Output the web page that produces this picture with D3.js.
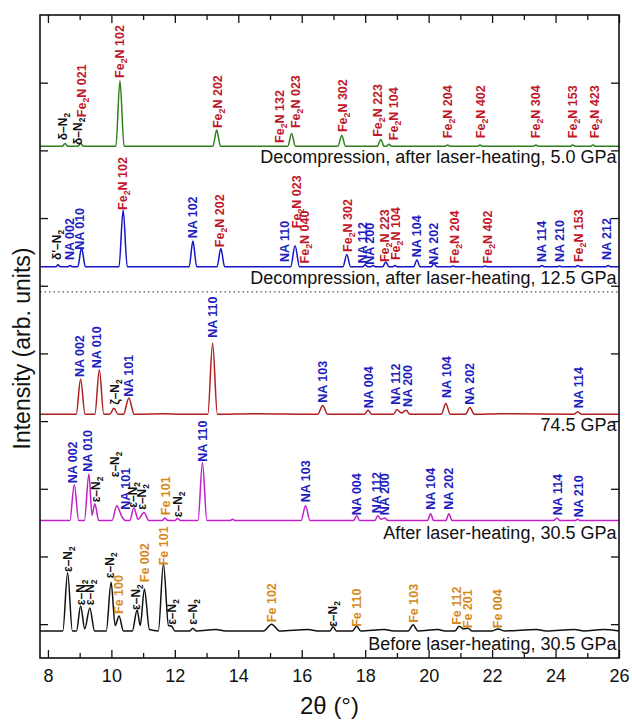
<!DOCTYPE html>
<html>
<head>
<meta charset="utf-8">
<script src="https://cdn.jsdelivr.net/npm/d3@7"></script>
<style>
  body { margin: 0; background: #fff; }
</style>
</head>
<body>
<div class="chart"></div>
<script>
// ---- data (2theta in degrees, intensity in arb. units) ----
const xMajorTicks = [8, 10, 12, 14, 16, 18, 20, 22, 24, 26];
const xMinorTicks = [9, 11, 13, 15, 17, 19, 21, 23, 25];
const yTicks = [0.5, 1.5, 2.5, 3.5, 4.5, 5.5, 6.5, 7.5, 8.5];

const traceNames = ["green", "blue", "red", "magenta", "black"];
const baselines = [7.56, 5.78, 3.60, 2.03, 0.40];
const traceColors = ["#2f7f1c", "#1414c8", "#b01e1e", "#c21fc8", "#111111"];

// vertices of each pattern, intensity relative to its own baseline
const greenTrace = [[7.75,0],[8.45,0],[8.54,0.04],[8.63,0],[8.94,0],[9.03,0.04],[9.12,0],[10.14,0],[10.27,0.97],[10.4,0],
  [13.2,0],[13.32,0.24],[13.44,0],[15.56,0],[15.68,0.19],[15.8,0],[17.14,0],[17.26,0.16],[17.38,0],[18.38,0],[18.49,0.10],
  [18.6,0],[18.67,0],[18.75,0.03],[18.83,0],[20.52,0],[20.6,0.02],[20.68,0],[21.54,0],[21.62,0.02],[21.7,0],[23.3,0],
  [23.38,0.02],[23.46,0],[24.46,0],[24.54,0.02],[24.62,0],[25.1,0],[25.18,0.02],[25.26,0],[26,0]];

const blueTrace = [[7.75,0],[8.25,0],[8.32,0.03],[8.39,0],[8.63,0],[8.7,0.02],[8.77,0],[8.94,0],[9.06,0.28],[9.18,0],
  [10.24,0],[10.37,0.84],[10.5,0],[12.45,0],[12.57,0.38],[12.69,0],[13.33,0],[13.45,0.27],[13.57,0],[15.65,0],[15.79,0.31],
  [15.93,0],[17.3,0],[17.42,0.18],[17.54,0],[17.92,0],[18.0,0.03],[18.08,0],[18.17,0],[18.25,0.02],[18.33,0],[18.55,0],
  [18.65,0.07],[18.75,0],[18.86,0],[18.94,0.02],[19.02,0],[19.53,0],[19.63,0.10],[19.73,0],[20.08,0],[20.17,0.05],[20.26,0],
  [20.69,0],[20.77,0.01],[20.85,0],[21.7,0],[21.78,0.01],[21.86,0],[23.49,0],[23.57,0.02],[23.65,0],[24.05,0],[24.13,0.01],
  [24.21,0],[24.62,0],[24.7,0.02],[24.78,0],[25.58,0],[25.66,0.02],[25.74,0],[26,0]];

const redTrace = [[7.75,0],[8.89,0],[9.03,0.52],[9.17,0],[9.48,0],[9.62,0.66],[9.76,0],[9.95,0],[10.08,0.09],[10.21,0],
  [10.38,0],[10.55,0.24],[10.72,0],[11.6,0.01],[12.2,0],[13.04,0],[13.19,1.05],[13.34,0],[14.5,0.01],[16.5,0],[16.66,0.13],
  [16.82,0],[17.97,0],[18.09,0.06],[18.21,0],[18.89,0],[19.0,0.07],[19.14,0.02],[19.29,0.06],[19.41,0],[20.4,0],[20.54,0.16],
  [20.68,0],[21.16,0],[21.3,0.10],[21.44,0],[22.3,0.01],[24.58,0],[24.7,0.04],[24.82,0],[26,0]];

const magentaTrace = [[7.75,0],[8.69,0],[8.83,0.53],[8.97,0],[9.15,0],[9.29,0.69],[9.39,0.08],[9.48,0.25],[9.6,0],
  [10.02,0],[10.17,0.22],[10.33,0.06],[10.45,0],[10.58,0],[10.71,0.19],[10.84,0.02],[11.03,0.12],[11.18,0],[11.6,0],
  [11.69,0.04],[11.78,0],[12.0,0],[12.09,0.03],[12.18,0],[12.73,0],[12.87,0.86],[13.01,0],[13.74,0],[13.82,0.02],[13.9,0],
  [15.98,0],[16.12,0.22],[16.26,0],[17.63,0],[17.73,0.07],[17.83,0],[18.3,0],[18.4,0.07],[18.5,0.02],[18.62,0.04],[18.72,0],
  [19.96,0],[20.06,0.10],[20.16,0],[20.54,0],[20.64,0.10],[20.74,0],[23.94,0],[24.04,0.04],[24.14,0],[24.62,0],[24.7,0.02],
  [24.78,0],[26,0]];

const blackTrace = [[7.75,0],[8.47,0],[8.62,0.86],[8.77,0],[8.9,0],[9.03,0.37],[9.16,0.03],[9.32,0.34],[9.47,0],[9.84,0],
  [9.99,0.72],[10.12,0.08],[10.24,0.22],[10.38,0],[10.66,0],[10.81,0.31],[10.91,0.08],[11.04,0.62],[11.2,0.02],[11.48,0],
  [11.64,0.99],[11.8,0.08],[11.9,0.07],[12.0,0],[12.47,0],[12.57,0.04],[12.67,0],[13.3,0.02],[13.6,0],[14.8,0],[15.05,0.10],
  [15.3,0],[16.2,0.02],[16.5,0],[16.89,0],[16.99,0.06],[17.09,0],[17.6,0],[17.73,0.07],[17.86,0],[18.6,0.02],[18.9,0],
  [19.36,0],[19.51,0.09],[19.66,0],[20.3,0.02],[20.5,0],[20.83,0],[20.96,0.07],[21.1,0.03],[21.24,0.04],[21.36,0],[22.0,0],
  [22.19,0.03],[22.38,0],[23.4,0.02],[23.7,0],[24.6,0.02],[24.9,0],[25.5,0.02],[26,0]];

const traces = [greenTrace, blueTrace, redTrace, magentaTrace, blackTrace];

// peak labels: [text, kind, 2theta, intensity at start of text]; "_x" = subscript
const labelColors = { fe2n: "#c0182a", na: "#1e1ec0", fe: "#d68a1e", n2: "#111111" };

const greenLabels = [
  ["δ–N_2", "n2", 8.47, 7.65], ["δ–N_2", "n2", 8.95, 7.58], ["Fe_2N 021", "fe2n", 9.07, 7.99],
  ["Fe_2N 102", "fe2n", 10.27, 8.57], ["Fe_2N 202", "fe2n", 13.33, 7.83], ["Fe_2N 132", "fe2n", 15.31, 7.61],
  ["Fe_2N 023", "fe2n", 15.79, 7.83], ["Fe_2N 302", "fe2n", 17.27, 7.77], ["Fe_2N 223", "fe2n", 18.40, 7.70],
  ["Fe_2N 104", "fe2n", 18.88, 7.65], ["Fe_2N 204", "fe2n", 20.61, 7.68], ["Fe_2N 402", "fe2n", 21.62, 7.68],
  ["Fe_2N 304", "fe2n", 23.38, 7.68], ["Fe_2N 153", "fe2n", 24.55, 7.68], ["Fe_2N 423", "fe2n", 25.24, 7.68]
];

const blueLabels = [
  ["δ'–N_2", "n2", 8.28, 5.88], ["NA 002", "na", 8.69, 5.88], ["NA 010", "na", 9.01, 6.03],
  ["Fe_2N 102", "fe2n", 10.36, 6.62], ["NA 102", "na", 12.57, 6.20], ["Fe_2N 202", "fe2n", 13.42, 6.07],
  ["NA 110", "na", 15.47, 5.85], ["Fe_2N 023", "fe2n", 15.85, 6.35], ["Fe_2N 040", "fe2n", 16.10, 5.83],
  ["Fe_2N 302", "fe2n", 17.43, 6.00], ["NA 112", "na", 17.90, 5.83], ["NA 200", "na", 18.15, 5.81],
  ["Fe_2N 223", "fe2n", 18.62, 5.85], ["Fe_2N 104", "fe2n", 18.94, 5.88], ["NA 104", "na", 19.63, 5.92],
  ["NA 202", "na", 20.14, 5.81], ["Fe_2N 204", "fe2n", 20.83, 5.83], ["Fe_2N 402", "fe2n", 21.84, 5.83],
  ["NA 114", "na", 23.57, 5.85], ["NA 210", "na", 24.14, 5.85], ["Fe_2N 153", "fe2n", 24.71, 5.85],
  ["NA 212", "na", 25.62, 5.88]
];

const redLabels = [
  ["NA 002", "na", 8.98, 4.15], ["NA 010", "na", 9.54, 4.28], ["ζ–N_2", "n2", 10.11, 3.74],
  ["NA 101", "na", 10.55, 3.86], ["NA 110", "na", 13.20, 4.73], ["NA 103", "na", 16.67, 3.77],
  ["NA 004", "na", 18.09, 3.69], ["NA 112", "na", 18.94, 3.74], ["NA 200", "na", 19.32, 3.71],
  ["NA 104", "na", 20.55, 3.84], ["NA 202", "na", 21.30, 3.74], ["NA 114", "na", 24.71, 3.69]
];

const magentaLabels = [
  ["NA 002", "na", 8.79, 2.58], ["NA 010", "na", 9.26, 2.75], ["ε–N_2", "n2", 9.51, 2.30],
  ["ε–N_2", "n2", 10.11, 2.67], ["NA 101", "na", 10.43, 2.19], ["ε–N_2", "n2", 10.68, 2.22],
  ["ε–N_2", "n2", 10.96, 2.19], ["Fe 101", "fe", 11.72, 2.11], ["ε–N_2", "n2", 12.10, 2.08],
  ["NA 110", "na", 12.86, 2.90], ["NA 103", "na", 16.13, 2.30], ["NA 004", "na", 17.74, 2.11],
  ["NA 112", "na", 18.37, 2.14], ["NA 200", "na", 18.62, 2.11], ["NA 104", "na", 20.07, 2.19],
  ["NA 202", "na", 20.64, 2.19], ["NA 114", "na", 24.05, 2.11], ["NA 210", "na", 24.71, 2.08]
];

const blackLabels = [
  ["ε–N_2", "n2", 8.63, 1.27], ["ε–N_2", "n2", 9.04, 0.78], ["ε–N_2", "n2", 9.32, 0.78],
  ["ε–N_2", "n2", 9.95, 1.18], ["Fe 100", "fe", 10.24, 0.65], ["ε–N_2", "n2", 10.77, 0.71],
  ["Fe 002", "fe", 11.03, 1.12], ["Fe 101", "fe", 11.63, 1.37], ["ε–N_2", "n2", 11.91, 0.49],
  ["ε–N_2", "n2", 12.57, 0.49], ["Fe 102", "fe", 15.06, 0.53], ["ε–N_2", "n2", 16.98, 0.46],
  ["Fe 110", "fe", 17.74, 0.46], ["Fe 103", "fe", 19.51, 0.52], ["Fe 112", "fe", 20.89, 0.49],
  ["Fe 201", "fe", 21.24, 0.44], ["Fe 004", "fe", 22.16, 0.44]
];

const allLabels = [greenLabels, blueLabels, redLabels, magentaLabels, blackLabels];

const captions = ["Decompression, after laser-heating, 5.0 GPa", "Decompression, after laser-heating, 12.5 GPa",
  "74.5 GPa", "After laser-heating, 30.5 GPa", "Before laser-heating, 30.5 GPa"];
const captionY = [7.31, 5.52, 3.35, 1.76, 0.12];
const dividerY = 5.41;

// ---- layout ----
const W = 632, H = 722;
const margin = { top: 15, right: 13, bottom: 64, left: 40 };
const width = W - margin.left - margin.right,
  height = H - margin.top - margin.bottom;

const svg = d3.select(".chart").append("svg")
  .attr("width", W).attr("height", H)
  .style("font-family", "'Liberation Sans', Arial, sans-serif");

const g = svg.append("g")
  .attr("transform", "translate(" + margin.left + "," + margin.top + ")");

const x = d3.scaleLinear().domain([7.75, 26]).range([0, width]);
const y = d3.scaleLinear().domain([0, 9.5]).range([height, 0]);

// dotted divider
g.append("line")
  .attr("x1", 0).attr("x2", width)
  .attr("y1", y(dividerY)).attr("y2", y(dividerY))
  .attr("stroke", "#555").attr("stroke-width", 1.2)
  .attr("stroke-dasharray", "1.5,3");

// patterns
traces.forEach((tr, i) => {
  const line = d3.line()
    .x(d => x(d[0]))
    .y(d => y(baselines[i] + d[1]))
    .curve(d3.curveMonotoneX);
  g.append("path")
    .datum(tr)
    .attr("class", "trace " + traceNames[i])
    .attr("fill", "none")
    .attr("stroke", traceColors[i])
    .attr("stroke-width", 1.5)
    .attr("d", line);
});

// peak labels, rotated
function addLabel(lab) {
  const [txt, kind, xv, yv] = lab;
  const fs = kind === "n2" ? 12 : 12.5;
  const t = g.append("text")
    .attr("transform", `translate(${x(xv)},${y(yv)}) rotate(-90)`)
    .attr("y", fs * 0.36)
    .attr("font-size", fs + "px")
    .attr("font-weight", "bold")
    .attr("fill", labelColors[kind]);
  const parts = txt.split(/_(.)/);
  let shifted = false;
  parts.forEach((p, k) => {
    if (p === "") return;
    const sp = t.append("tspan").text(p);
    if (k % 2 === 1) {
      sp.attr("dy", 3).attr("font-size", (fs * 0.7) + "px");
      shifted = true;
    } else if (shifted) {
      sp.attr("dy", -3);
      shifted = false;
    }
  });
}
allLabels.forEach(list => list.forEach(addLabel));

// sample captions
captions.forEach((c, i) => {
  g.append("text")
    .attr("x", x(25.92)).attr("y", y(captionY[i]))
    .attr("text-anchor", "end")
    .attr("font-size", "18px")
    .attr("fill", "#111")
    .text(c);
});

// axes, ticks point inward
const xAxis = d3.axisBottom(x).tickValues(xMajorTicks).tickSize(-8).tickPadding(11).tickSizeOuter(0);
g.append("g").attr("class", "x-axis")
  .attr("transform", `translate(0,${height})`)
  .call(xAxis)
  .call(s => s.select(".domain").remove())
  .selectAll("text").attr("font-size", "18px").attr("fill", "#111")
  .style("font-family", "'Liberation Sans', Arial, sans-serif");

g.append("g").attr("transform", `translate(0,${height})`)
  .call(d3.axisBottom(x).tickValues(xMinorTicks).tickSize(-5).tickFormat(""))
  .call(s => s.select(".domain").remove());

g.append("g")
  .call(d3.axisTop(x).tickValues(xMajorTicks).tickSize(-8).tickFormat(""))
  .call(s => s.select(".domain").remove());
g.append("g")
  .call(d3.axisTop(x).tickValues(xMinorTicks).tickSize(-5).tickFormat(""))
  .call(s => s.select(".domain").remove());

g.append("g")
  .call(d3.axisLeft(y).tickValues(yTicks).tickSize(-8).tickFormat(""))
  .call(s => s.select(".domain").remove());
g.append("g").attr("transform", `translate(${width},0)`)
  .call(d3.axisRight(y).tickValues(yTicks).tickSize(-8).tickFormat(""))
  .call(s => s.select(".domain").remove());

g.selectAll(".tick line").attr("stroke", "#111").attr("stroke-width", 1.3);

// frame
g.append("rect")
  .attr("width", width).attr("height", height)
  .attr("fill", "none").attr("stroke", "#111").attr("stroke-width", 1.6);

// axis titles
svg.append("text")
  .attr("x", margin.left + width / 2).attr("y", 714)
  .attr("text-anchor", "middle")
  .attr("font-size", "24px").attr("fill", "#111")
  .text("2θ (°)");

svg.append("text")
  .attr("transform", `translate(30,${margin.top + height / 2 + 12}) rotate(-90)`)
  .attr("text-anchor", "middle")
  .attr("font-size", "23px").attr("fill", "#111")
  .text("Intensity (arb. units)");
</script>
</body>
</html>
